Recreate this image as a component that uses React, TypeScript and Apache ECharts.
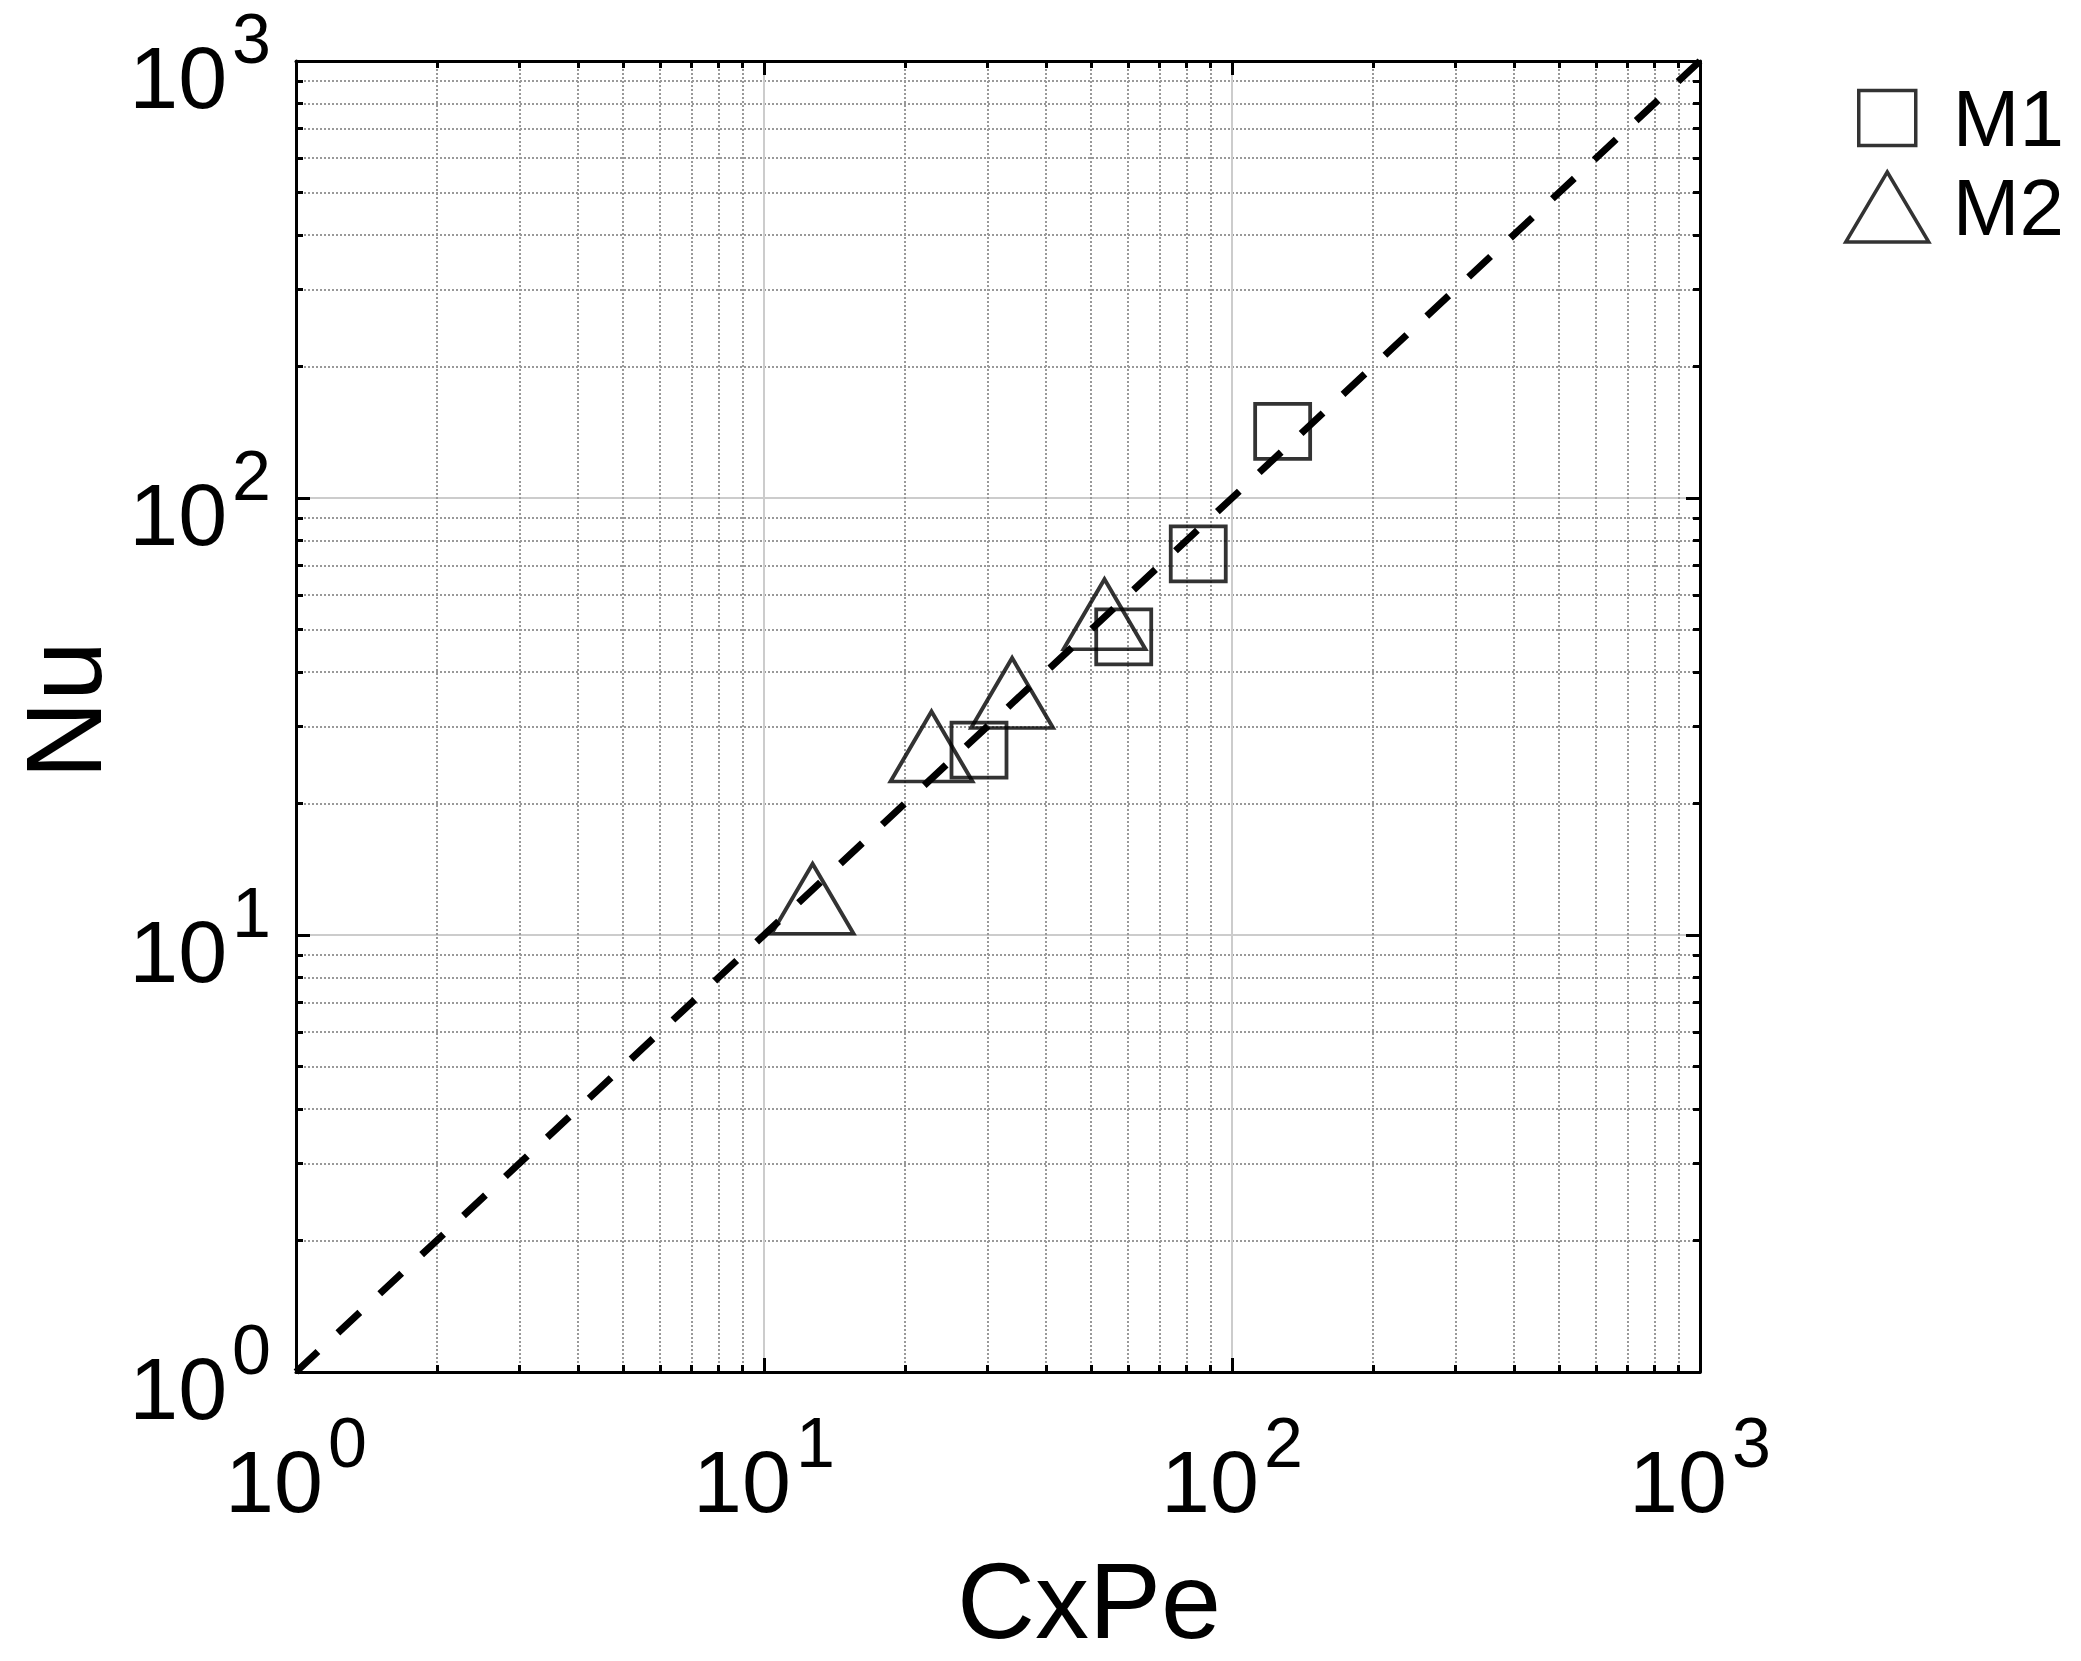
import React, { useEffect, useRef } from 'react';
import * as echarts from 'echarts';

// Data
const m1X = [28.8, 58.7, 84.7, 128.3];
const m1Y = [26.5, 48.1, 74.5, 142.0];
const m2X = [12.7, 22.8, 33.9, 53.4];
const m2Y = [12.1, 27.0, 35.8, 54.2];
const refLineX = [1, 1000];
const refLineY = [1, 1000];
const axisMin = 1;
const axisMax = 1000;
const seriesNames = ['M1', 'M2'];
const xTitle = 'CxPe';
const yTitle = 'Nu';

const FONT = '"Liberation Sans", Arial, sans-serif';

const rich = {
  b: { fontSize: 88, lineHeight: 88, padding: [32, 0, 0, 0], fontFamily: FONT, color: '#000' },
  s: { fontSize: 70, lineHeight: 70, padding: [0, 0, 44, 5], fontFamily: FONT, color: '#000' },
};

const labelFormatter = (v: number) => `{b|10}{s|${Math.round(Math.log10(v))}}`;

const baseAxis = () => ({
  type: 'log',
  logBase: 10,
  min: axisMin,
  max: axisMax,
  axisLine: { show: true, onZero: false, lineStyle: { color: '#000', width: 3 } },
  axisTick: { show: true, inside: true, length: 14, lineStyle: { color: '#000', width: 3 } },
  minorTick: { show: true, splitNumber: 9, length: 7, lineStyle: { color: '#000', width: 3 } },
});

export default function App() {
  const ref = useRef<HTMLDivElement>(null);
  useEffect(() => {
    if (!ref.current) return;
    const chart = echarts.init(ref.current, null, { renderer: 'svg' });
    const option: any = {
      animation: false,
      backgroundColor: '#fff',
      grid: { left: 296, top: 61, width: 1404, height: 1311, outerBoundsMode: 'none', containLabel: false },
      xAxis: [
        {
          ...baseAxis(),
          position: 'bottom',
          axisLabel: {
            show: true, margin: 49, formatter: labelFormatter, rich,
            showMinLabel: true, showMaxLabel: true, hideOverlap: false,
          },
          splitLine: { show: true, lineStyle: { color: '#cccccc', width: 2 } },
          minorSplitLine: { show: true, lineStyle: { color: '#999999', width: 2, type: [2, 2] } },
        },
        {
          ...baseAxis(),
          position: 'top',
          axisLabel: { show: false },
          splitLine: { show: false },
          minorSplitLine: { show: false },
        },
      ],
      yAxis: [
        {
          ...baseAxis(),
          position: 'left',
          axisLabel: {
            show: true, margin: 25, formatter: labelFormatter, rich,
            showMinLabel: true, showMaxLabel: true, hideOverlap: false,
          },
          splitLine: { show: true, lineStyle: { color: '#cccccc', width: 2 } },
          minorSplitLine: { show: true, lineStyle: { color: '#999999', width: 2, type: [2, 2] } },
        },
        {
          ...baseAxis(),
          position: 'right',
          axisLabel: { show: false },
          splitLine: { show: false },
          minorSplitLine: { show: false },
        },
      ],
      legend: [
        {
          data: [{ name: seriesNames[0], icon: 'rect' }],
          left: 1857, top: 78, padding: 0,
          itemWidth: 57, itemHeight: 55,
          selectedMode: false,
          itemStyle: { color: 'rgba(0,0,0,0)', borderColor: '#000', borderWidth: 3.5 },
          textStyle: { fontSize: 80, fontFamily: FONT, color: '#000', padding: [0, 0, 0, 32] },
        },
        {
          data: [{ name: seriesNames[1], icon: 'triangle' }],
          left: 1844, top: 167, padding: 0,
          itemWidth: 83, itemHeight: 70,
          selectedMode: false,
          itemStyle: { color: 'rgba(0,0,0,0)', borderColor: '#000', borderWidth: 3.5 },
          textStyle: { fontSize: 80, fontFamily: FONT, color: '#000', padding: [0, 0, 0, 19] },
        },
      ],
      graphic: [
        {
          type: 'text', x: 1089, y: 1600, silent: true,
          style: { text: xTitle, fontSize: 108, lineHeight: 96, fontFamily: FONT, fill: '#000', textAlign: 'center', textVerticalAlign: 'middle' },
        },
        {
          type: 'text', x: 63, y: 710, rotation: Math.PI / 2, silent: true,
          style: { text: yTitle, fontSize: 108, lineHeight: 96, fontFamily: FONT, fill: '#000', textAlign: 'center', textVerticalAlign: 'middle' },
        },
      ],
      series: [
        {
          name: 'ref',
          type: 'line',
          xAxisIndex: 0, yAxisIndex: 0,
          data: refLineX.map((x, i) => [x, refLineY[i]]),
          symbol: 'none', showSymbol: false, silent: true, z: 1,
          lineStyle: { color: '#000', width: 7, type: [30, 27.3] },
        },
        {
          name: seriesNames[0],
          type: 'scatter',
          xAxisIndex: 0, yAxisIndex: 0,
          data: m1X.map((x, i) => [x, m1Y[i]]),
          symbol: 'rect', symbolSize: 55, z: 3,
          itemStyle: { color: 'rgba(0,0,0,0)', borderColor: '#000', borderWidth: 3.8 },
        },
        {
          name: seriesNames[1],
          type: 'scatter',
          xAxisIndex: 0, yAxisIndex: 0,
          data: m2X.map((x, i) => [x, m2Y[i]]),
          symbol: 'triangle', symbolSize: [82, 70], z: 3,
          itemStyle: { color: 'rgba(0,0,0,0)', borderColor: '#000', borderWidth: 3.8 },
        },
      ],
    };
    chart.setOption(option);
    return () => chart.dispose();
  }, []);
  return (
    <div
      ref={ref}
      style={{ position: 'fixed', left: 0, top: 0, width: 2081, height: 1661, background: '#fff' }}
    />
  );
}
